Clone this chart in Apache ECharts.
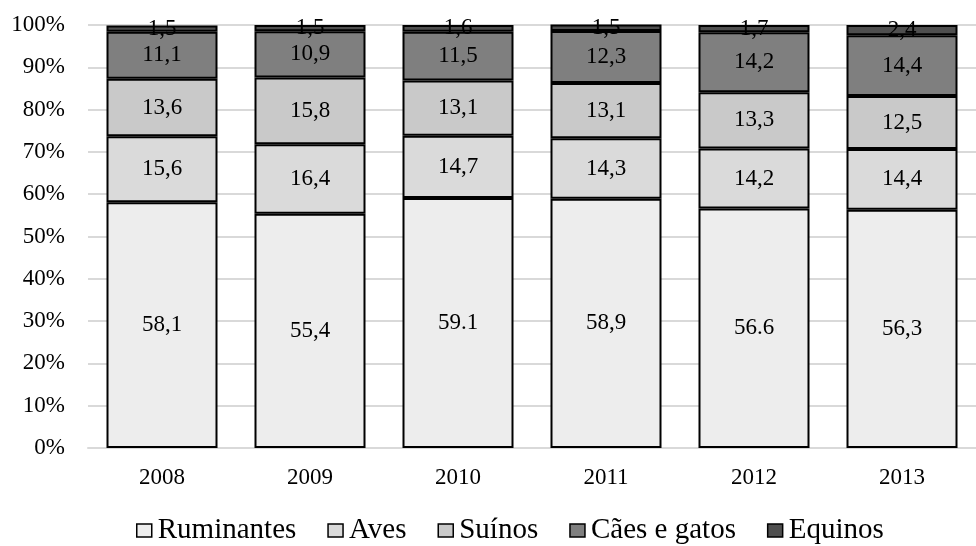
<!DOCTYPE html>
<html>
<head>
<meta charset="utf-8">
<script src="https://cdn.jsdelivr.net/npm/echarts@6/dist/echarts.min.js"></script>
<style>
  html, body { margin: 0; padding: 0; background: #fff; }
  #chart { width: 976px; height: 546px; }
</style>
</head>
<body>
<div id="chart"></div>
<script>
// Share of cases by animal group, per year (percent)
const years = ['2008', '2009', '2010', '2011', '2012', '2013'];
const ruminantes = [58.1, 55.4, 59.1, 58.9, 56.6, 56.3];
const aves = [15.6, 16.4, 14.7, 14.3, 14.2, 14.4];
const suinos = [13.6, 15.8, 13.1, 13.1, 13.3, 12.5];
const caesGatos = [11.1, 10.9, 11.5, 12.3, 14.2, 14.4];
const equinos = [1.5, 1.5, 1.6, 1.5, 1.7, 2.4];
const yTicks = ['0%', '10%', '20%', '30%', '40%', '50%', '60%', '70%', '80%', '90%', '100%'];

// labels printed with a decimal point instead of a comma: [series, year]
const pointLabels = [['Ruminantes', '2010'], ['Ruminantes', '2012']];

const font = 'Liberation Serif, Times New Roman, serif';

function fmt(p) {
  const usePoint = pointLabels.some(([s, y]) => s === p.seriesName && y === p.name);
  const txt = p.value.toFixed(1);
  return usePoint ? txt : txt.replace('.', ',');
}

function makeSeries(name, data, color) {
  return {
    name: name,
    type: 'bar',
    stack: 'total',
    data: data,
    barWidth: '75%',
    itemStyle: { color: color, borderColor: '#000', borderWidth: 2 },
    label: {
      show: true,
      position: 'inside',
      formatter: fmt,
      color: '#000',
      fontFamily: font,
      fontSize: 23
    },
    emphasis: { disabled: true }
  };
}

const chart = echarts.init(document.getElementById('chart'), null, { renderer: 'canvas' });
chart.setOption({
  animation: false,
  grid: { left: 88, right: 0, top: 25, bottom: 98, containLabel: false },
  legend: {
    top: 516,
    left: 136,
    padding: 0,
    itemWidth: 15,
    itemHeight: 13,
    itemGap: 31,
    icon: 'rect',
    itemStyle: { borderColor: '#000', borderWidth: 1.5 },
    textStyle: { fontFamily: font, fontSize: 29, color: '#000', padding: [0, 0, 0, 1] },
    data: ['Ruminantes', 'Aves', 'Suínos', 'Cães e gatos', 'Equinos']
  },
  xAxis: {
    type: 'category',
    data: years,
    axisLine: { show: true, lineStyle: { color: '#d9d9d9', width: 2 } },
    axisTick: { show: false },
    axisLabel: { fontFamily: font, fontSize: 23, color: '#000', margin: 18 }
  },
  yAxis: {
    type: 'value',
    min: 0,
    max: 100,
    interval: 10,
    axisLine: { show: false },
    axisTick: { show: false },
    splitLine: { lineStyle: { color: '#d9d9d9', width: 2 } },
    axisLabel: {
      fontFamily: font,
      fontSize: 23,
      color: '#000',
      margin: 23,
      formatter: (v) => yTicks[Math.round(v / 10)]
    }
  },
  series: [
    makeSeries('Ruminantes', ruminantes, '#ededed'),
    makeSeries('Aves', aves, '#dadada'),
    makeSeries('Suínos', suinos, '#c9c9c9'),
    makeSeries('Cães e gatos', caesGatos, '#7f7f7f'),
    makeSeries('Equinos', equinos, '#4f4f4f')
  ]
});
</script>
</body>
</html>
